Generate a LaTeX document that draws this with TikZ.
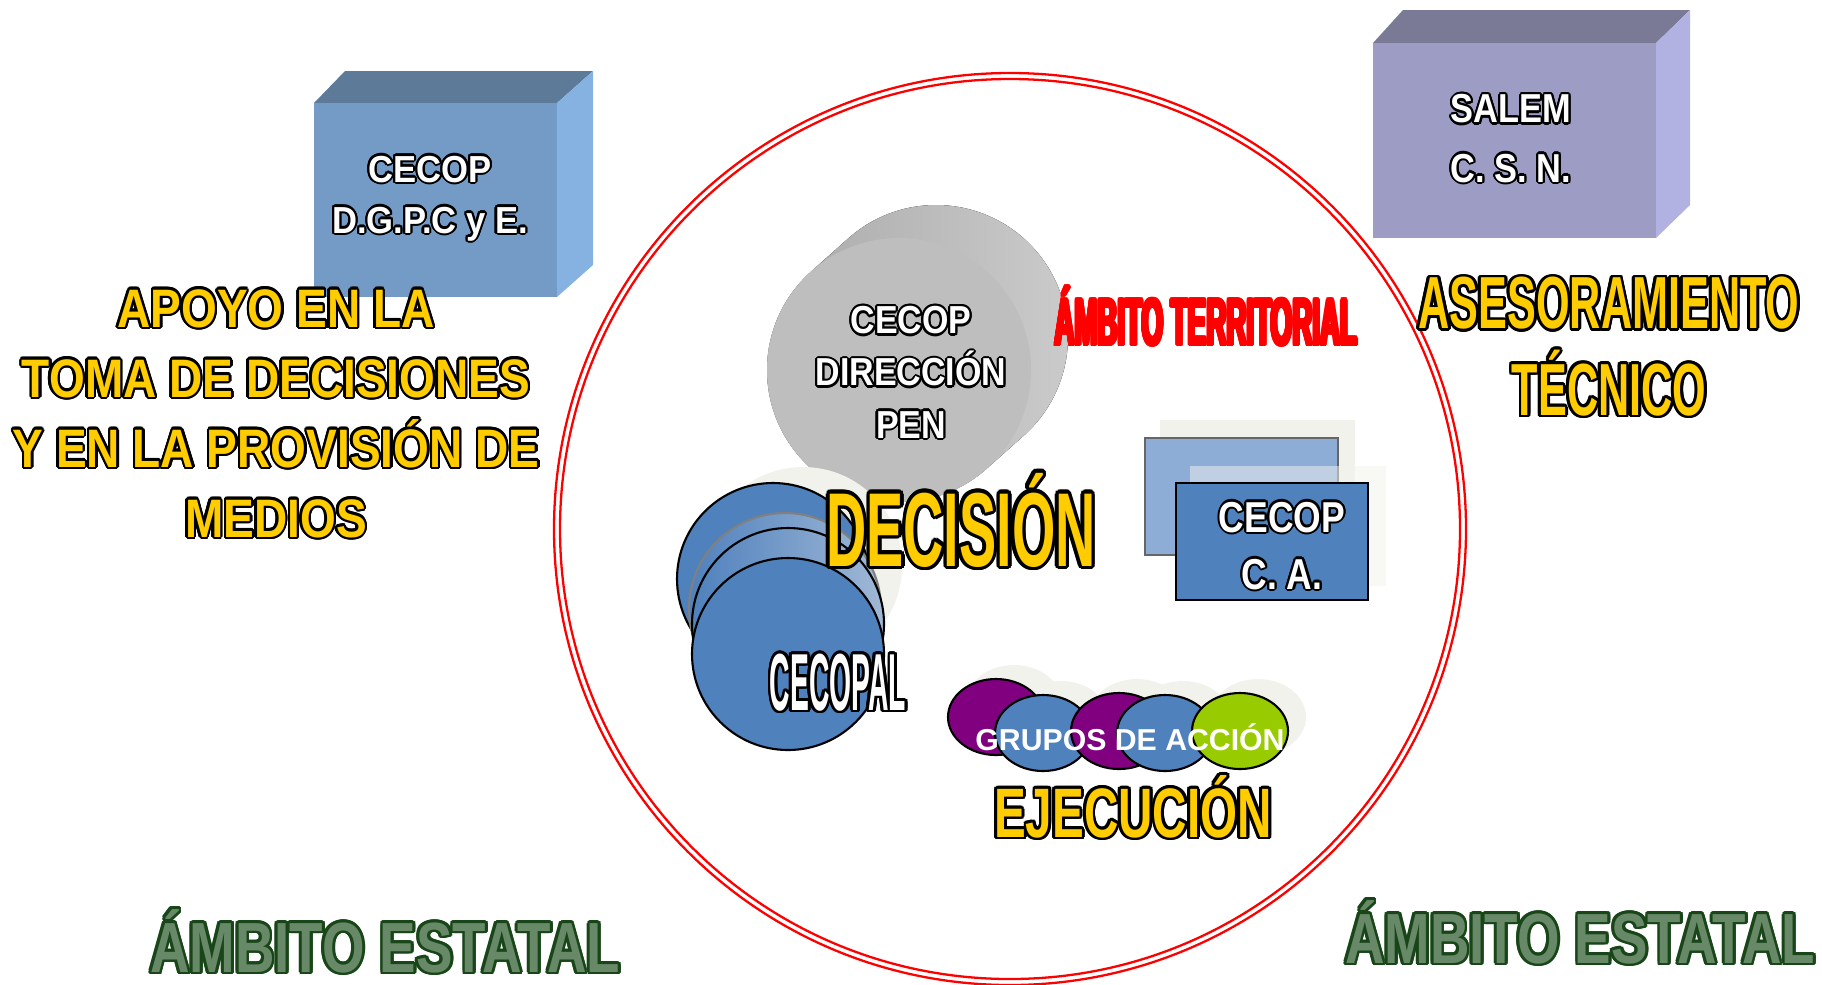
\documentclass[tikz,border=0pt]{standalone}
\usepackage{fontspec}
\setmainfont{Liberation Sans}
\usepackage{graphicx}
\usepackage[copies]{contour}
\contourlength{0.6pt}
\usetikzlibrary{calc}

\definecolor{boxfront}{RGB}{115,155,198}
\definecolor{boxtop}{RGB}{94,122,153}
\definecolor{boxside}{RGB}{133,178,225}
\definecolor{salfront}{RGB}{156,156,196}
\definecolor{saltop}{RGB}{122,122,150}
\definecolor{salside}{RGB}{178,178,226}
\definecolor{gold}{RGB}{255,204,0}
\definecolor{estgreen}{RGB}{104,137,104}
\definecolor{estdark}{RGB}{25,70,25}
\definecolor{cblue}{RGB}{79,129,189}
\definecolor{cpale}{RGB}{160,184,214}
\definecolor{caback}{RGB}{142,173,214}
\definecolor{haze}{RGB}{242,242,236}
\definecolor{cpurple}{RGB}{128,0,128}
\definecolor{cgreen}{RGB}{153,204,0}
\definecolor{cylback}{RGB}{168,168,168}
\definecolor{cyllight}{RGB}{204,204,204}
\definecolor{cylface}{RGB}{190,190,190}

\newcommand{\outl}[3]{\contour{#1}{\scalebox{#2}[1]{#3}}}

\begin{document}
\begin{tikzpicture}[x=0.01cm, y=-0.01cm,
    lbl/.style={inner sep=0pt, anchor=base, align=center},
    rim/.style={draw=black, line width=0.6pt}]

    \useasboundingbox (0,0) rectangle (1822,984);

    % red double ring
    \coordinate (ring) at (1010,529);
    \draw[red, line width=0.65pt] (ring) circle (456);
    \draw[red, line width=0.65pt] (ring) circle (450);

    % 3D boxes (text anchored on the last line)
    \fill[boxtop] (314,103) -- (345,71) -- (593,71) -- (557,103) -- cycle;
    \fill[boxside] (557,103) -- (593,71) -- (593,265) -- (557,297) -- cycle;
    \fill[boxfront] (314,103) rectangle (557,297);
    \node[lbl, white, font=\bfseries\fontsize{10.7}{14.5}\selectfont] (dgpc) at (430,233)
        {\outl{black}{0.92}{CECOP}\\\outl{black}{0.92}{D.G.P.C y E.}};

    \fill[saltop] (1373,43) -- (1403,10) -- (1690,10) -- (1656,43) -- cycle;
    \fill[salside] (1656,43) -- (1690,10) -- (1690,205) -- (1656,238) -- cycle;
    \fill[salfront] (1373,43) rectangle (1656,238);
    \node[lbl, white, font=\bfseries\fontsize{11.5}{16.8}\selectfont] (salem) at (1511,182)
        {\outl{black}{0.85}{SALEM}\\\outl{black}{0.85}{C. S. N.}};

    % grey cylinder
    \coordinate (cylb) at (936,337);
    \coordinate (cylf) at (899,370);
    \fill[left color=cylback, right color=cyllight]
        ($(cylf)+(228:132)$) -- ($(cylb)+(228:132)$) arc[start angle=228, end angle=408, radius=132]
        -- ($(cylf)+(48:132)$) arc[start angle=48, end angle=228, radius=132] -- cycle;
    \fill[cylface] (cylf) circle (132);
    \node[lbl, white, font=\bfseries\fontsize{11.1}{14.8}\selectfont] (pen) at (911,438)
        {\outl{black}{0.87}{CECOP}\\\outl{black}{0.87}{DIRECCIÓN}\\\outl{black}{0.87}{PEN}};

    % stacked circles
    \fill[haze] (803,566) circle (99);
    \draw[rim, fill=cblue] (773,579) circle (96);
    \draw[rim, draw=gray, left color=cblue, right color=cpale] (785,609) circle (96);
    \draw[rim, left color=cblue, right color=cpale] (788,624) circle (96);
    \draw[rim, fill=cblue] (788,654) circle (96);

    \node[lbl, gold, font=\bfseries\fontsize{29.9}{30}\selectfont\contourlength{1pt}] (decision) at (961,566)
        {\outl{black}{0.53}{DECISIÓN}};
    \node[lbl, white, font=\bfseries\fontsize{23}{24}\selectfont\contourlength{0.8pt}] (cecopal) at (838,710)
        {\outl{black}{0.35}{CECOPAL}};

    % CECOP C. A.
    \fill[haze] (1160,420) rectangle (1355,537);
    \draw[fill=caback, draw=gray!80!black, line width=0.7pt] (1145,438) rectangle (1338,555);
    \fill[haze, opacity=0.5] (1190,466) rectangle (1386,586);
    \draw[rim, line width=0.8pt, fill=cblue] (1176,483) rectangle (1368,600);
    \node[lbl, white, font=\bfseries\fontsize{12.3}{16.2}\selectfont] (ca) at (1282,589)
        {\outl{black}{0.82}{CECOP}\\\outl{black}{0.82}{C. A.}};

    \node[lbl, red, font=\bfseries\fontsize{18.8}{19}\selectfont\contourlength{0.45pt}] (territorial) at (1206,345)
        {\outl{red}{0.42}{ÁMBITO TERRITORIAL}};

    % action groups
    \fill[haze] (1014,703) ellipse [x radius=48, y radius=38];
    \fill[haze] (1061,719) ellipse [x radius=48, y radius=38];
    \fill[haze] (1137,717) ellipse [x radius=48, y radius=38];
    \fill[haze] (1183,719) ellipse [x radius=48, y radius=38];
    \fill[haze] (1258,717) ellipse [x radius=48, y radius=38];
    \draw[rim, fill=cpurple] (996,717) ellipse [x radius=48, y radius=38];
    \draw[rim, fill=cblue] (1043,733) ellipse [x radius=48, y radius=38];
    \draw[rim, fill=cpurple] (1119,731) ellipse [x radius=48, y radius=38];
    \draw[rim, fill=cblue] (1165,733) ellipse [x radius=48, y radius=38];
    \draw[rim, fill=cgreen] (1240,731) ellipse [x radius=48, y radius=38];
    \node[lbl, white, font=\bfseries\fontsize{8.6}{9}\selectfont] (grupos) at (1130,750) {GRUPOS DE ACCIÓN};

    \node[lbl, gold, font=\bfseries\fontsize{19.9}{20}\selectfont\contourlength{0.8pt}] (ejecucion) at (1133,837)
        {\outl{black}{0.68}{EJECUCIÓN}};

    % side captions
    \node[lbl, gold, font=\bfseries\fontsize{15.4}{19.9}\selectfont\contourlength{0.7pt}] (apoyo) at (276,537)
        {\outl{black}{0.85}{APOYO EN LA}\\\outl{black}{0.85}{TOMA DE DECISIONES}\\
         \outl{black}{0.85}{Y EN LA PROVISIÓN DE}\\\outl{black}{0.85}{MEDIOS}};
    \node[lbl, gold, font=\bfseries\fontsize{21}{24.5}\selectfont\contourlength{0.8pt}] (asesor) at (1609,415)
        {\outl{black}{0.585}{ASESORAMIENTO}\\\outl{black}{0.585}{TÉCNICO}};

    \node[lbl, estgreen, font=\bfseries\fontsize{20.2}{21}\selectfont\contourlength{0.8pt}] (estatalL) at (385,972)
        {\outl{estdark}{0.77}{ÁMBITO ESTATAL}};
    \node[lbl, estgreen, font=\bfseries\fontsize{20.2}{21}\selectfont\contourlength{0.8pt}] (estatalR) at (1580,963)
        {\outl{estdark}{0.77}{ÁMBITO ESTATAL}};
\end{tikzpicture}
\end{document}
